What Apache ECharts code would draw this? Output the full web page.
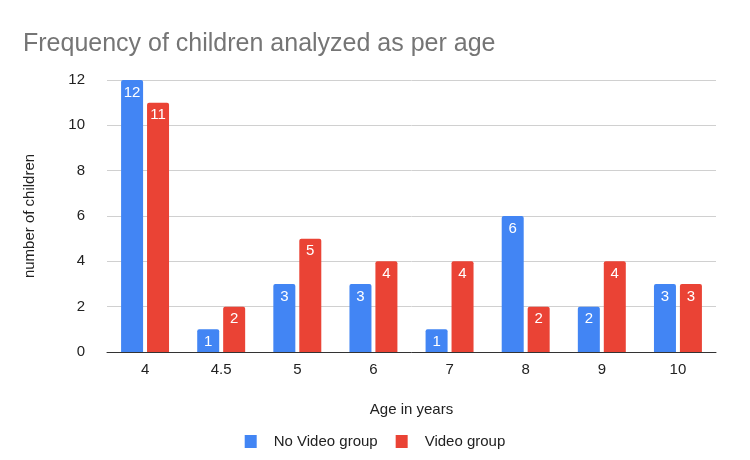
<!DOCTYPE html>
<html>
<head>
<meta charset="utf-8">
<script src="https://cdn.jsdelivr.net/npm/echarts@6/dist/echarts.min.js"></script>
<style>
  html, body { margin: 0; padding: 0; background: #fff; }
  #chart { width: 750px; height: 460px; }
</style>
</head>
<body>
<div id="chart"></div>
<script>
  const ages = ['4', '4.5', '5', '6', '7', '8', '9', '10'];
  const noVideo = [12, 1, 3, 3, 1, 6, 2, 3];
  const video = [11, 2, 5, 4, 4, 2, 4, 3];

  const font = '"Liberation Sans", Arial, sans-serif';
  const chart = echarts.init(document.getElementById('chart'));

  function barSeries(name, data, color) {
    return {
      name: name,
      type: 'bar',
      data: data,
      barWidth: 22,
      barGap: '18%',
      itemStyle: { color: color, borderRadius: [2, 2, 0, 0] },
      label: {
        show: true,
        position: 'insideTop',
        distance: 5,
        color: '#fff',
        fontFamily: font,
        fontSize: 15
      }
    };
  }

  chart.setOption({
    animation: false,
    title: {
      text: 'Frequency of children analyzed as per age',
      left: 18,
      top: 27,
      textStyle: { color: '#757575', fontFamily: font, fontSize: 25, fontWeight: 'normal' }
    },
    legend: {
      bottom: 6,
      left: 'center',
      itemWidth: 12,
      itemHeight: 13,
      itemGap: 18,
      icon: 'rect',
      textStyle: { color: '#222', fontFamily: font, fontSize: 15, padding: [0, 0, 0, 12] },
      data: ['No Video group', 'Video group']
    },
    grid: { left: 107, right: 34, top: 80, bottom: 108 },
    xAxis: {
      type: 'category',
      data: ages,
      name: 'Age in years',
      nameLocation: 'middle',
      nameGap: 50,
      nameTextStyle: { color: '#222', fontFamily: font, fontSize: 15 },
      axisLine: { lineStyle: { color: '#333', width: 1 } },
      axisTick: { show: false },
      axisLabel: { color: '#222', fontFamily: font, fontSize: 15, margin: 10 }
    },
    yAxis: {
      type: 'value',
      min: 0,
      max: 12,
      interval: 2,
      name: 'number of children',
      nameLocation: 'middle',
      nameGap: 70,
      nameTextStyle: { color: '#222', fontFamily: font, fontSize: 15 },
      axisLine: { show: false },
      axisTick: { show: false },
      axisLabel: { color: '#222', fontFamily: font, fontSize: 15, margin: 22 },
      splitLine: { lineStyle: { color: '#d0d0d0' } }
    },
    series: [
      barSeries('No Video group', noVideo, '#4285f4'),
      barSeries('Video group', video, '#ea4335')
    ]
  });
</script>
</body>
</html>
